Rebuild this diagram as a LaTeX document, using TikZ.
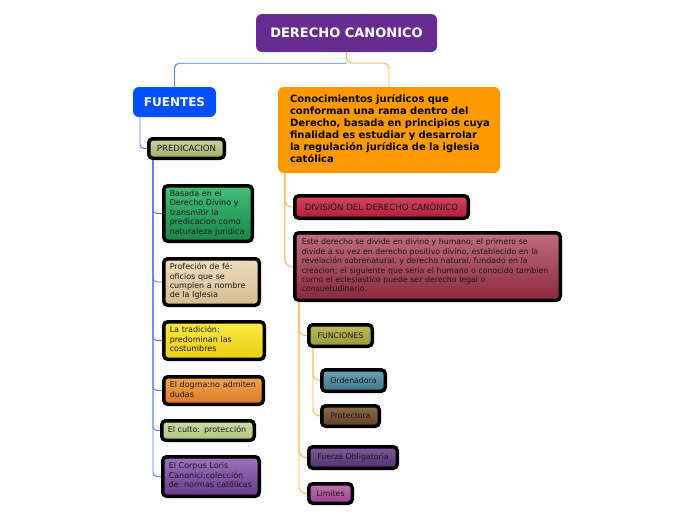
\documentclass[tikz,border=0pt]{standalone}
\usepackage{fontspec}
\setmainfont{DejaVu Sans}
\newcommand\lns[1]{\begin{tabular}{@{}l@{}}#1\end{tabular}}
\definecolor{lnblue}{RGB}{80,120,255}
\definecolor{lnorange}{RGB}{255,176,64}
\begin{document}
\begin{tikzpicture}[x=1pt,y=-1pt,
  bl/.style={draw=lnblue, line width=0.9pt, rounded corners=4pt},
  orl/.style={draw=lnorange, line width=0.9pt, rounded corners=7pt},
  topbox/.style={rounded corners=6pt, font=\bfseries, text=white, inner sep=0pt},
  sub/.style={draw=black, line width=3.5pt, rounded corners=4pt, inner xsep=6pt, inner ysep=1pt,
     font=\fontsize{8}{9.4}\selectfont, text=black!90, align=left},
  one/.style={draw=black, line width=3.5pt, rounded corners=4pt, inner sep=0pt,
     font=\fontsize{7.8}{9.3}\selectfont, text=black!90, align=center}
]
\useasboundingbox (0,0) rectangle (696,520);
\fill[white] (0,0) rectangle (696,520);

% top level
\node[topbox, fill={rgb,255:red,102;green,45;blue,145}, minimum width=181pt, minimum height=38pt,
  font=\fontsize{13}{15}\selectfont\bfseries] (root) at (346.5,33) {DERECHO CANONICO};
\node[topbox, fill={rgb,255:red,0;green,80;blue,255}, minimum width=83pt, minimum height=30pt,
  font=\fontsize{12}{14}\selectfont\bfseries] (fuentes) at (174.5,102) {FUENTES};
\node[rounded corners=6pt, fill={rgb,255:red,255;green,153;blue,0}, minimum width=222pt, minimum height=86pt,
  text width=198pt, inner xsep=12pt, align=left, font=\fontsize{10}{12}\selectfont\bfseries] (conoc) at (389,130)
  {\lns{Conocimientos jurídicos que\\conforman una rama dentro del\\Derecho, basada en principios cuya\\finalidad es estudiar y desarrolar\\la regulación jurídica de la iglesia\\católica}};

% top connectors
\draw[orl, rounded corners=5pt] (root.south) -- ([yshift=-11pt]root.south) -| (conoc.north);
\draw[bl, rounded corners=5pt] ([yshift=-11pt]root.south) -| (fuentes.north);

% left branch
\node[one, top color={rgb,255:red,204;green,212;blue,160}, bottom color={rgb,255:red,160;green,172;blue,104},
  minimum width=75.5pt, minimum height=19.5pt, font=\fontsize{8.6}{10}\selectfont] (pred) at (186.5,148.5) {PREDICACION};
\node[sub, top color={rgb,255:red,70;green,190;blue,120}, bottom color={rgb,255:red,24;green,134;blue,72},
  text width=76.5pt, minimum height=55.5pt] (basada) at (208,213.5)
  {\lns{Basada en el\\Derecho Divino y\\transmitir la\\predicacion como\\naturaleza juridica}};
\node[sub, top color={rgb,255:red,238;green,222;blue,190}, bottom color={rgb,255:red,212;green,188;blue,142},
  text width=83.5pt, minimum height=46.5pt] (prof) at (211.5,282)
  {\lns{Profeción de fé:\\oficios que se\\cumplen a nombre\\de la Iglesia}};
\node[sub, top color={rgb,255:red,252;green,234;blue,70}, bottom color={rgb,255:red,230;green,206;blue,16},
  text width=88.5pt, minimum height=37.5pt] (trad) at (214,340.5)
  {\lns{La tradición:\\predominan las\\costumbres}};
\node[sub, top color={rgb,255:red,242;green,164;blue,84}, bottom color={rgb,255:red,220;green,122;blue,32},
  text width=87.5pt, minimum height=27.5pt] (dogma) at (213.5,390.5)
  {\lns{El dogma:no admiten\\dudas}};
\node[sub, top color={rgb,255:red,206;green,220;blue,164}, bottom color={rgb,255:red,176;green,196;blue,128},
  text width=80.5pt, minimum height=19.5pt] (culto) at (208,430.5)
  {\lns{El culto: protección}};
\node[sub, top color={rgb,255:red,156;green,114;blue,188}, bottom color={rgb,255:red,104;green,58;blue,140},
  text width=84.5pt, minimum height=39.5pt] (corpus) at (211,476.5)
  {\lns{El Corpus Loris\\Canonici:colección\\de \ normas católicas}};

\draw[bl] ([xshift=-34.5pt]fuentes.south) |- (pred.west);
\foreach \n in {basada,prof,trad,dogma,culto,corpus}
  \draw[bl] ([xshift=6pt]pred.south west) |- (\n.west);

% right branch
\node[one, top color={rgb,255:red,214;green,70;blue,96}, bottom color={rgb,255:red,176;green,28;blue,56},
  minimum width=173.5pt, minimum height=22.5pt, font=\fontsize{8.6}{10}\selectfont] (div) at (381.5,207) {DIVISIÓN DEL DERECHO CANÓNICO};
\node[sub, top color={rgb,255:red,190;green,110;blue,126}, bottom color={rgb,255:red,140;green,40;blue,62},
  inner xsep=7pt, text width=251.5pt, minimum height=67.5pt, font=\fontsize{7.8}{9.4}\selectfont] (este) at (427.5,266.5)
  {\lns{Este derecho se divide en divino y humano; el primero se\\divide a su vez en derecho positivo divino, establecido en la\\revelación sobrenatural, y derecho natural, fundado en la\\creacion; el siguiente que seria el humano o conocido tambien\\como el eclesiastico puede ser derecho legal o\\consuetudinario.}};
\node[one, top color={rgb,255:red,188;green,188;blue,96}, bottom color={rgb,255:red,152;green,152;blue,48},
  minimum width=63.5pt, minimum height=21.5pt] (func) at (340.5,335.5) {FUNCIONES};
\node[one, top color={rgb,255:red,108;green,162;blue,178}, bottom color={rgb,255:red,62;green,120;blue,136},
  minimum width=63.5pt, minimum height=21.5pt] (orden) at (353.5,380.5) {Ordenadora};
\node[one, top color={rgb,255:red,140;green,108;blue,76}, bottom color={rgb,255:red,94;green,64;blue,38},
  minimum width=57.5pt, minimum height=20.5pt] (prot) at (350.5,416) {Protectora};
\node[one, top color={rgb,255:red,124;green,92;blue,156}, bottom color={rgb,255:red,80;green,48;blue,112},
  minimum width=88.5pt, minimum height=21.5pt] (fuerza) at (353,457.5) {Fuerza Obligatoria};
\node[one, top color={rgb,255:red,194;green,114;blue,178}, bottom color={rgb,255:red,154;green,64;blue,136},
  minimum width=43.5pt, minimum height=19.5pt] (lim) at (330.5,493.5) {Limites};

\draw[orl] ([xshift=7pt]conoc.south west) |- (div.west);
\draw[orl] ([xshift=7pt]conoc.south west) |- (este.west);
\foreach \n in {func,fuerza,lim}
  \draw[orl] ([xshift=6pt]este.south west) |- (\n.west);
\foreach \n in {orden,prot}
  \draw[orl] ([xshift=6pt]func.south west) |- (\n.west);
\end{tikzpicture}
\end{document}
